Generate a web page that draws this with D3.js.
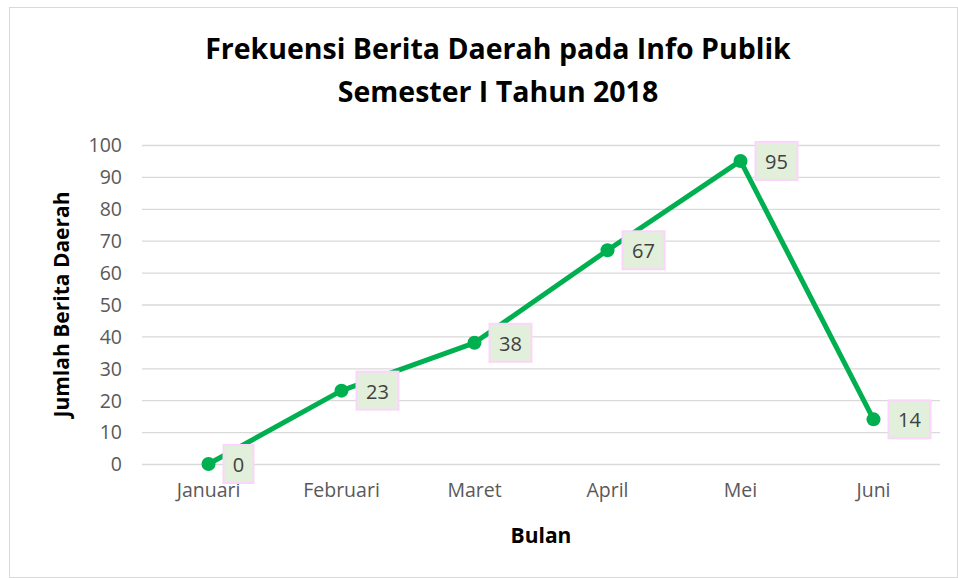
<!DOCTYPE html>
<html>
<head>
<meta charset="utf-8">
<script src="https://cdn.jsdelivr.net/npm/d3@7"></script>
<style>
  body { margin: 0; background: #fff; }
  svg { display: block; }
  .title { font-family: "Open Sans", sans-serif; font-weight: bold; font-size: 28.5px; fill: #000; }
  .tick text { font-family: "Open Sans", sans-serif; font-size: 19.5px; fill: #595959; }
  .axis-title { font-family: "Open Sans", sans-serif; font-weight: bold; font-size: 21px; fill: #000; }
  .lbl { font-family: "Open Sans", sans-serif; font-size: 20px; fill: #404040; }
</style>
</head>
<body>
<div id="chart"></div>
<script>
// Chart data
const months = ['Januari', 'Februari', 'Maret', 'April', 'Mei', 'Juni'];
const counts = [0, 23, 38, 67, 95, 14];
const yTicks = [0, 10, 20, 30, 40, 50, 60, 70, 80, 90, 100];

const W = 958, H = 578;
const margin = { top: 145, right: 18, bottom: 114, left: 142 };
const width = W - margin.left - margin.right;
const height = H - margin.top - margin.bottom;

const svg = d3.select('#chart').append('svg')
  .attr('width', W)
  .attr('height', H);

// Chart area border
svg.append('rect')
  .attr('x', 9.5).attr('y', 7.5)
  .attr('width', W - 10).attr('height', H - 8)
  .attr('fill', '#fff')
  .attr('stroke', '#d9d9d9');

// Title
svg.append('text').attr('class', 'title')
  .attr('x', 498).attr('y', 59).attr('text-anchor', 'middle')
  .text('Frekuensi Berita Daerah pada Info Publik');
svg.append('text').attr('class', 'title')
  .attr('x', 498).attr('y', 102).attr('text-anchor', 'middle')
  .text('Semester I Tahun 2018');

const g = svg.append('g')
  .attr('transform', `translate(${margin.left},${margin.top})`);

const x = d3.scaleBand().domain(months).range([0, width]);
const y = d3.scaleLinear().domain([0, 100]).range([height, 0]);

// Gridlines + y axis
const yAxis = g.append('g')
  .call(d3.axisLeft(y).tickValues(yTicks).tickSize(-width).tickPadding(20));
yAxis.select('.domain').remove();
yAxis.selectAll('.tick line').attr('stroke', '#d9d9d9').attr('stroke-width', 1.3);
yAxis.selectAll('.tick text').attr('dy', '0.35em');

// x axis
const xAxis = g.append('g')
  .attr('transform', `translate(0,${height})`)
  .call(d3.axisBottom(x).tickSize(0).tickPadding(19));
xAxis.select('.domain').remove();

// Axis titles
svg.append('text').attr('class', 'axis-title')
  .attr('x', margin.left + width / 2).attr('y', 543).attr('text-anchor', 'middle')
  .text('Bulan');
svg.append('text').attr('class', 'axis-title')
  .attr('transform', `translate(69,${margin.top + height / 2}) rotate(-90)`)
  .attr('text-anchor', 'middle')
  .text('Jumlah Berita Daerah');

const cx = d => x(d.m) + x.bandwidth() / 2;
const points = months.map((m, i) => ({ m, v: counts[i] }));

// Line
g.append('path')
  .datum(points)
  .attr('fill', 'none')
  .attr('stroke', '#00b050')
  .attr('stroke-width', 5)
  .attr('stroke-linejoin', 'round')
  .attr('d', d3.line().x(cx).y(d => y(d.v)));

// Markers
g.selectAll('.pt').data(points).enter().append('circle')
  .attr('cx', cx).attr('cy', d => y(d.v)).attr('r', 7)
  .attr('fill', '#00b050');

// Data labels
const lab = g.selectAll('.lab').data(points).enter().append('g')
  .attr('transform', d => `translate(${cx(d) + 15},${y(d.v)})`);
lab.append('text').attr('class', 'lbl')
  .attr('x', d => String(d.v).length > 1 ? 21 : 15)
  .attr('y', 1).attr('dy', '0.35em').attr('text-anchor', 'middle')
  .text(d => d.v);
lab.insert('rect', 'text')
  .attr('x', 0).attr('y', -19)
  .attr('width', d => String(d.v).length > 1 ? 42 : 30)
  .attr('height', 38)
  .attr('fill', '#e2efda')
  .attr('stroke', '#fcd5fc')
  .attr('stroke-width', 2);
</script>
</body>
</html>
